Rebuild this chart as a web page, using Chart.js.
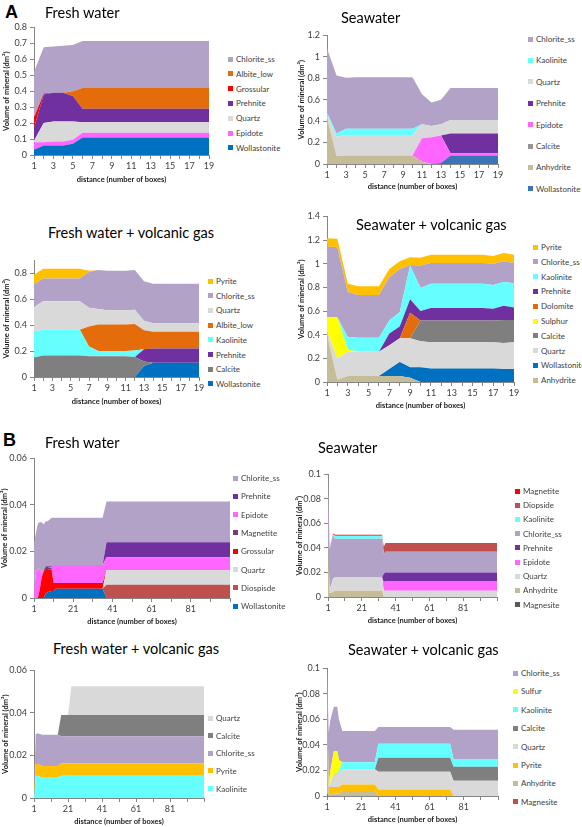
<!DOCTYPE html>
<html>
<head>
<meta charset="utf-8">
<script src="https://cdn.jsdelivr.net/npm/chart.js@4.4.1/dist/chart.umd.min.js"></script>
<style>
  body { margin: 0; background: #fff; }
  #page { position: relative; width: 582px; height: 827px; overflow: hidden; font-family: Lato, sans-serif; background: #fff; }
  .ttl { position: absolute; font-size: 14.5px; line-height: 16px; color: #000; white-space: nowrap; }
  .tag { position: absolute; font: bold 18px/18px "Liberation Sans", Arial, sans-serif; color: #000; }
  .lg { position: absolute; height: 10px; line-height: 10px; font-size: 8px; color: #404040; white-space: nowrap; display: flex; align-items: center; }
  .lg i { display: inline-block; width: 5px; height: 5px; margin-right: 3px; }
</style>
</head>
<body>
<div id="page">
  <div class="tag" style="left:5px;top:3px">A</div>
  <div class="tag" style="left:3px;top:431px">B</div>
</div>
<script>
// ---------- A: 19 boxes ----------
const boxesA = ['1','2','3','4','5','6','7','8','9','10','11','12','13','14','15','16','17','18','19'];

// A, fresh water
const a1Wollastonite = [0.033,0.06,0.06,0.06,0.07,0.11,0.11,0.11,0.11,0.11,0.11,0.11,0.11,0.11,0.11,0.11,0.11,0.11,0.11];
const a1Epidote = [0.047,0.02,0.025,0.025,0.025,0.03,0.03,0.03,0.03,0.03,0.03,0.03,0.03,0.03,0.03,0.03,0.03,0.03,0.03];
const a1Quartz = [0.01,0.12,0.125,0.125,0.115,0.065,0.065,0.065,0.065,0.065,0.065,0.065,0.065,0.065,0.065,0.065,0.065,0.065,0.065];
const a1Prehnite = [0.08,0.18,0.18,0.18,0.16,0.085,0.085,0.085,0.085,0.085,0.085,0.085,0.085,0.085,0.085,0.085,0.085,0.085,0.085];
const a1Grossular = [0.065,0.005,0,0,0,0,0,0,0,0,0,0,0,0,0,0,0,0,0];
const a1Albite = [0,0,0,0,0.03,0.13,0.13,0.13,0.13,0.13,0.13,0.13,0.13,0.13,0.13,0.13,0.13,0.13,0.13];
const a1Chlorite = [0.285,0.29,0.29,0.295,0.29,0.295,0.295,0.295,0.295,0.295,0.295,0.295,0.295,0.295,0.295,0.295,0.295,0.295,0.295];

// A, seawater
const a2Wollastonite = [0,0,0,0,0,0,0,0,0,0,0,0,0.01,0.08,0.08,0.08,0.08,0.08,0.08];
const a2Anhydrite = [0.43,0.075,0.08,0.08,0.08,0.08,0.08,0.08,0.08,0.08,0.02,0,0,0,0,0,0,0,0];
const a2Calcite = [0,0,0,0,0,0,0,0,0,0,0,0,0,0,0,0,0,0,0];
const a2Epidote = [0,0,0,0,0,0,0,0,0,0,0.22,0.25,0.255,0.02,0.02,0.02,0.02,0.02,0.02];
const a2Prehnite = [0,0,0,0,0,0,0,0,0,0,0,0,0,0.185,0.185,0.185,0.185,0.185,0.185];
const a2Quartz = [0.03,0.18,0.19,0.19,0.19,0.19,0.19,0.19,0.19,0.19,0.13,0.105,0.105,0.125,0.125,0.125,0.125,0.125,0.125];
const a2Kaolinite = [0.02,0.03,0.06,0.06,0.06,0.06,0.06,0.06,0.06,0.06,0,0,0,0,0,0,0,0,0];
const a2Chlorite = [0.6,0.54,0.475,0.48,0.48,0.48,0.48,0.48,0.48,0.48,0.28,0.22,0.23,0.3,0.3,0.3,0.3,0.3,0.3];

// A, fresh water + volcanic gas
const a3Wollastonite = [0,0,0,0,0,0,0,0,0,0,0,0,0.085,0.11,0.11,0.11,0.11,0.11,0.11];
const a3Calcite = [0.15,0.165,0.165,0.165,0.165,0.165,0.16,0.16,0.16,0.16,0.16,0.155,0.035,0,0,0,0,0,0];
const a3Prehnite = [0,0,0,0,0,0,0,0,0,0,0,0,0.095,0.11,0.11,0.11,0.11,0.11,0.11];
const a3Kaolinite = [0.2,0.2,0.2,0.2,0.2,0.2,0.075,0.04,0.04,0.04,0.04,0.05,0,0,0,0,0,0,0];
const a3Albite = [0,0,0,0,0,0,0.155,0.205,0.205,0.205,0.205,0.205,0.145,0.13,0.13,0.13,0.13,0.13,0.13];
const a3Quartz = [0.19,0.22,0.22,0.22,0.22,0.22,0.145,0.12,0.11,0.11,0.11,0.11,0.075,0.065,0.065,0.065,0.065,0.065,0.065];
const a3Chlorite = [0.175,0.175,0.175,0.175,0.175,0.175,0.275,0.3,0.305,0.305,0.305,0.305,0.305,0.305,0.305,0.305,0.305,0.305,0.305];
const a3Pyrite = [0.075,0.075,0.075,0.075,0.075,0.075,0.01,0,0,0,0,0,0,0,0,0,0,0,0];

// A, seawater + volcanic gas
const a4Anhydrite = [0.4,0.02,0.05,0.05,0.05,0.05,0.05,0.05,0.035,0,0,0,0,0,0,0,0,0,0];
const a4Wollastonite = [0,0,0,0,0,0,0.06,0.12,0.09,0.125,0.115,0.115,0.115,0.115,0.115,0.115,0.115,0.11,0.11];
const a4Quartz = [0.03,0.18,0.205,0.205,0.205,0.205,0.2,0.2,0.245,0.22,0.22,0.22,0.22,0.22,0.22,0.22,0.22,0.22,0.225];
const a4Calcite = [0,0,0,0,0,0,0,0,0,0.175,0.185,0.185,0.185,0.185,0.185,0.185,0.185,0.195,0.19];
const a4Sulphur = [0.12,0.345,0.02,0,0,0,0,0,0,0,0,0,0,0,0,0,0,0,0];
const a4Dolomite = [0,0,0,0,0,0,0,0,0.215,0,0,0,0,0,0,0,0,0,0];
const a4Prehnite = [0,0,0,0,0,0,0.1,0.1,0.115,0.08,0.105,0.105,0.105,0.105,0.105,0.105,0.1,0.12,0.105];
const a4Kaolinite = [0,0,0.105,0.12,0.12,0.12,0.11,0.12,0.285,0.195,0.205,0.205,0.205,0.205,0.205,0.205,0.2,0.2,0.205];
const a4Chlorite = [0.595,0.595,0.38,0.36,0.36,0.36,0.365,0.365,0.005,0.19,0.175,0.175,0.175,0.175,0.175,0.175,0.18,0.175,0.17];
const a4Pyrite = [0.07,0.07,0.07,0.075,0.075,0.075,0.07,0.065,0.065,0.065,0.07,0.07,0.07,0.07,0.07,0.07,0.065,0.07,0.07];

// ---------- B: 101 boxes, values read at the boxes where something changes ----------
const xTicksB = [1,11,21,31,41,51,61,71,81,91,101];
const xLabelsB = [1,21,41,61,81];

// B, fresh water
const b1Boxes = [1,2,3,4,5,6,7,8,10,11,12,36,38,101];
const b1Wollastonite = [0,0,0,0,0,0,0.002,0.0025,0.003,0.003,0.004,0.004,0,0];
const b1Diospisde = [0,0,0,0,0,0,0,0,0,0,0,0,0.0057,0.0057];
const b1Quartz = [0,0,0,0,0,0,0,0,0,0,0,0,0.0063,0.0063];
const b1Grossular = [0,0,0,0.004,0.009,0.0115,0.0105,0.01,0.009,0.0035,0.0025,0.0025,0,0];
const b1Magnetite = [0,0,0,0,0,0.0005,0.0008,0.0008,0.0008,0,0,0,0,0];
const b1Epidote = [0.002,0.011,0.0128,0.008,0.002,0,0,0,0.0005,0.0077,0.0077,0.0077,0.0055,0.0055];
const b1Prehnite = [0,0,0,0,0,0,0.0003,0.0003,0.0003,0,0,0,0.0065,0.0065];
const b1Chlorite = [0.021,0.017,0.0192,0.0207,0.0215,0.0197,0.0194,0.0194,0.0209,0.0203,0.0203,0.0203,0.0175,0.0175];

// B, seawater
const b2Boxes = [1,2,4,5,33,34,35,101];
const b2Magnesite = [0,0,0,0,0,0,0,0];
const b2Anhydrite = [0.04,0.003,0.004,0.005,0.005,0,0,0];
const b2Quartz = [0,0.003,0.011,0.011,0.011,0.005,0.005,0.005];
const b2Epidote = [0,0,0,0,0,0.007,0.008,0.008];
const b2Prehnite = [0,0,0,0,0,0.007,0.007,0.007];
const b2Chlorite = [0.06,0.033,0.0355,0.0315,0.0315,0.016,0.017,0.017];
const b2Kaolinite = [0,0.0005,0.0005,0.0025,0.0025,0,0,0];
const b2Diopside = [0,0,0,0,0,0.006,0.007,0.007];
const b2Magnetite = [0,0.0005,0.0007,0.0008,0.0008,0,0,0];

// B, fresh water + volcanic gas
const b3Boxes = [1,2,3,6,15,17,21,23,101];
const b3Kaolinite = [0,0.0105,0.0105,0.0095,0.0095,0.0105,0.0105,0.0105,0.0105];
const b3Pyrite = [0.002,0.0055,0.0055,0.0055,0.0055,0.0057,0.0057,0.0057,0.0057];
const b3Chlorite = [0,0.014,0.0145,0.0148,0.0148,0.0128,0.0128,0.0128,0.0128];
const b3Calcite = [0,0,0,0,0,0.01,0.01,0.01,0.01];
const b3Quartz = [0,0,0,0,0,0,0,0.0135,0.0135];

// B, seawater + volcanic gas
const b4Boxes = [1,2,3,5,7,8,10,29,31,73,75,101];
const b4Magnesite = [0.002,0,0,0,0,0,0,0,0,0,0,0];
const b4Anhydrite = [0.078,0.001,0.001,0.002,0.002,0.002,0.004,0.004,0,0,0,0];
const b4Pyrite = [0,0.006,0.006,0.005,0.005,0.005,0.005,0.005,0.005,0.005,0,0];
const b4Quartz = [0,0.001,0.003,0.011,0.011,0.011,0.012,0.012,0.014,0.014,0.012,0.012];
const b4Calcite = [0,0,0,0,0,0,0,0,0.011,0.011,0.011,0.011];
const b4Kaolinite = [0,0,0,0,0,0.002,0.0055,0.0055,0.011,0.011,0.006,0.006];
const b4Sulfur = [0,0.001,0.01,0.017,0.017,0.008,0,0,0,0,0,0];
const b4Chlorite = [0.02,0.041,0.04,0.035,0.035,0.032,0.0245,0.0245,0.013,0.013,0.023,0.023];

// colours
const C = {
  chlorite: '#b3a2c7', albite: '#e46c0a', grossular: '#ff0000', prehnite: '#7030a0',
  quartz: '#d9d9d9', epidote: '#ff66ff', wollastonite: '#0070c0', kaolinite: '#66ffff',
  calcite: '#7f7f7f', anhydrite: '#c4bd97', pyrite: '#ffc000', sulphur: '#ffff00',
  diopside: '#c0504d', magnetiteB1: '#7b3a70', magnesite: '#595959'
};

const AXIS = '#868686';
const TICK_FONT = { family: 'Lato', size: 9 };
const AXT_FONT = { family: 'Lato', size: 7.5, weight: 'bold' };
const page = document.getElementById('page');

function areaChart(p) {
  const top = p.plot[1] - 8;
  const w = p.plot[2] + 8 - p.left;
  const h = p.bottom - top;
  const yW = p.plot[0] - p.left;
  const xH = p.bottom - p.plot[3];
  const linear = !p.labels;

  const cv = document.createElement('canvas');
  cv.width = w; cv.height = h;
  cv.style.cssText = `position:absolute;left:${p.left}px;top:${top}px;width:${w}px;height:${h}px`;
  page.appendChild(cv);

  const t = document.createElement('div');
  t.className = 'ttl';
  t.style.left = p.title[1] + 'px';
  t.style.top = (p.title[2] - 8) + 'px';
  t.textContent = p.title[0];
  page.appendChild(t);

  const chart = new Chart(cv, {
    type: 'line',
    data: {
      labels: p.labels,
      datasets: p.series.map((s, i) => ({
        label: s[0],
        data: linear ? p.x.map((x, j) => ({ x: x, y: s[1][j] })) : s[1],
        backgroundColor: s[2],
        borderWidth: 0,
        pointRadius: 0,
        tension: 0,
        fill: i === 0 ? 'origin' : '-1'
      }))
    },
    options: {
      responsive: false,
      animation: false,
      devicePixelRatio: 1,
      layout: { padding: { top: 8, right: 8, left: 0, bottom: 0 } },
      plugins: { legend: { display: false }, tooltip: { enabled: false } },
      scales: {
        x: {
          type: linear ? 'linear' : 'category',
          min: linear ? 1 : undefined,
          max: linear ? 101 : undefined,
          offset: false,
          afterBuildTicks: linear ? (s) => { s.ticks = xTicksB.map(v => ({ value: v })); } : undefined,
          afterFit: (s) => { s.height = xH; },
          border: { color: AXIS },
          grid: { drawOnChartArea: false, tickLength: 4, color: AXIS },
          ticks: {
            font: TICK_FONT, color: '#404040', padding: 2, maxRotation: 0, autoSkip: false,
            callback: linear
              ? (v) => (xLabelsB.includes(v) ? String(v) : '')
              : function (v, i) { return i % 2 === 0 ? this.getLabelForValue(v) : ''; }
          },
          title: { display: true, text: 'distance (number of boxes)', font: AXT_FONT, color: '#1a1a1a', padding: 0 }
        },
        y: {
          stacked: true,
          min: 0,
          max: p.yMax,
          afterFit: (s) => { s.width = yW; },
          border: { color: AXIS },
          grid: { drawOnChartArea: false, tickLength: 4, color: AXIS },
          ticks: { stepSize: p.yStep, font: TICK_FONT, color: '#404040', padding: 3, callback: (v) => String(+v.toFixed(3)) },
          title: { display: true, text: 'Volume of mineral (dm³)', font: AXT_FONT, color: '#1a1a1a', padding: 0 }
        }
      }
    }
  });

  // legend, top of the stack first
  chart.data.datasets.slice().reverse().forEach((d, i) => {
    const it = document.createElement('div');
    it.className = 'lg';
    it.style.left = p.legend[0] + 'px';
    it.style.top = (p.legend[1] + i * p.legend[2] - 5) + 'px';
    it.innerHTML = `<i style="background:${d.backgroundColor}"></i>${d.label}`;
    page.appendChild(it);
  });
  return chart;
}

areaChart({
  title: ['Fresh water', 45, 13], left: 2, plot: [34, 27, 209, 155], bottom: 184,
  labels: boxesA, yMax: 0.8, yStep: 0.1, legend: [228, 59, 14.83],
  series: [
    ['Wollastonite', a1Wollastonite, C.wollastonite],
    ['Epidote', a1Epidote, C.epidote],
    ['Quartz', a1Quartz, C.quartz],
    ['Prehnite', a1Prehnite, C.prehnite],
    ['Grossular', a1Grossular, C.grossular],
    ['Albite_low', a1Albite, C.albite],
    ['Chlorite_ss', a1Chlorite, C.chlorite]
  ]
});

areaChart({
  title: ['Seawater', 341, 18], left: 297, plot: [327, 35, 498, 164], bottom: 191,
  labels: boxesA, yMax: 1.2, yStep: 0.2, legend: [528, 39, 21.4],
  series: [
    ['Wollastonite', a2Wollastonite, '#3c74b8'],
    ['Anhydrite', a2Anhydrite, C.anhydrite],
    ['Calcite', a2Calcite, '#969696'],
    ['Epidote', a2Epidote, C.epidote],
    ['Prehnite', a2Prehnite, C.prehnite],
    ['Quartz', a2Quartz, C.quartz],
    ['Kaolinite', a2Kaolinite, C.kaolinite],
    ['Chlorite_ss', a2Chlorite, C.chlorite]
  ]
});

areaChart({
  title: ['Fresh water + volcanic gas', 48, 233], left: 2, plot: [34, 260, 199, 377], bottom: 406,
  labels: boxesA, yMax: 0.9, yStep: 0.1, legend: [208, 281, 14.7],
  series: [
    ['Wollastonite', a3Wollastonite, C.wollastonite],
    ['Calcite', a3Calcite, C.calcite],
    ['Prehnite', a3Prehnite, C.prehnite],
    ['Kaolinite', a3Kaolinite, C.kaolinite],
    ['Albite_low', a3Albite, C.albite],
    ['Quartz', a3Quartz, C.quartz],
    ['Chlorite_ss', a3Chlorite, C.chlorite],
    ['Pyrite', a3Pyrite, C.pyrite]
  ]
});

areaChart({
  title: ['Seawater + volcanic gas', 356, 225], left: 297, plot: [327, 216, 514, 382], bottom: 410,
  labels: boxesA, yMax: 1.4, yStep: 0.2, legend: [533, 247, 14.8],
  series: [
    ['Anhydrite', a4Anhydrite, C.anhydrite],
    ['Wollastonite', a4Wollastonite, C.wollastonite],
    ['Quartz', a4Quartz, C.quartz],
    ['Calcite', a4Calcite, C.calcite],
    ['Sulphur', a4Sulphur, C.sulphur],
    ['Dolomite', a4Dolomite, C.albite],
    ['Prehnite', a4Prehnite, C.prehnite],
    ['Kaolinite', a4Kaolinite, C.kaolinite],
    ['Chlorite_ss', a4Chlorite, C.chlorite],
    ['Pyrite', a4Pyrite, C.pyrite]
  ]
});

areaChart({
  title: ['Fresh water', 45, 443], left: 0, plot: [34, 458, 230, 598], bottom: 626,
  x: b1Boxes, yMax: 0.06, yStep: 0.02, legend: [233, 478, 18.3],
  series: [
    ['Wollastonite', b1Wollastonite, C.wollastonite],
    ['Diospisde', b1Diospisde, C.diopside],
    ['Quartz', b1Quartz, C.quartz],
    ['Grossular', b1Grossular, C.grossular],
    ['Magnetite', b1Magnetite, C.magnetiteB1],
    ['Epidote', b1Epidote, C.epidote],
    ['Prehnite', b1Prehnite, C.prehnite],
    ['Chlorite_ss', b1Chlorite, C.chlorite]
  ]
});

areaChart({
  title: ['Seawater', 318, 448], left: 295, plot: [328, 474, 497, 597], bottom: 625,
  x: b2Boxes, yMax: 0.1, yStep: 0.02, legend: [515, 491, 14.2],
  series: [
    ['Magnesite', b2Magnesite, C.magnesite],
    ['Anhydrite', b2Anhydrite, C.anhydrite],
    ['Quartz', b2Quartz, C.quartz],
    ['Epidote', b2Epidote, C.epidote],
    ['Prehnite', b2Prehnite, C.prehnite],
    ['Chlorite_ss', b2Chlorite, C.chlorite],
    ['Kaolinite', b2Kaolinite, C.kaolinite],
    ['Diopside', b2Diopside, C.diopside],
    ['Magnetite', b2Magnetite, C.grossular]
  ]
});

areaChart({
  title: ['Fresh water + volcanic gas', 53, 649], left: 1, plot: [34, 670, 204, 798], bottom: 826,
  x: b3Boxes, yMax: 0.06, yStep: 0.02, legend: [208, 718, 17.65],
  series: [
    ['Kaolinite', b3Kaolinite, C.kaolinite],
    ['Pyrite', b3Pyrite, C.pyrite],
    ['Chlorite_ss', b3Chlorite, C.chlorite],
    ['Calcite', b3Calcite, C.calcite],
    ['Quartz', b3Quartz, C.quartz]
  ]
});

areaChart({
  title: ['Seawater + volcanic gas', 348, 650], left: 295, plot: [327, 668, 498, 796], bottom: 824,
  x: b4Boxes, yMax: 0.1, yStep: 0.02, legend: [513, 673, 18.4],
  series: [
    ['Magnesite', b4Magnesite, C.diopside],
    ['Anhydrite', b4Anhydrite, C.anhydrite],
    ['Pyrite', b4Pyrite, C.pyrite],
    ['Quartz', b4Quartz, C.quartz],
    ['Calcite', b4Calcite, C.calcite],
    ['Kaolinite', b4Kaolinite, C.kaolinite],
    ['Sulfur', b4Sulfur, C.sulphur],
    ['Chlorite_ss', b4Chlorite, C.chlorite]
  ]
});
</script>
</body>
</html>
